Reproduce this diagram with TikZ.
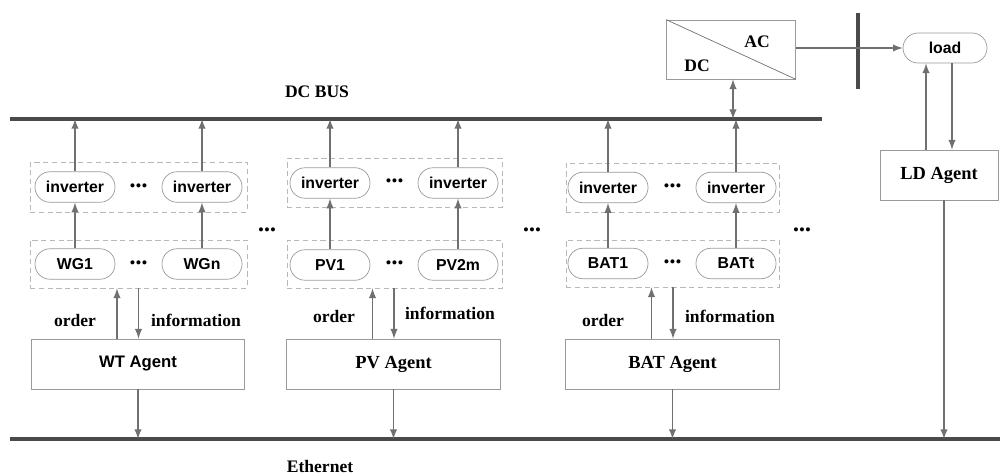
\documentclass[tikz,border=0pt]{standalone}
\usepackage{fontspec}
\setmainfont{Liberation Serif}
\setsansfont{Liberation Sans}
\usetikzlibrary{calc}

\definecolor{busgray}{HTML}{4A4A4A}
\definecolor{linegray}{HTML}{707070}
\definecolor{boxgray}{HTML}{9A9A9A}

\tikzset{
  pill/.style={draw=boxgray, rounded corners=3mm, minimum width=1.6cm, minimum height=0.61cm,
    inner sep=0pt, font=\sffamily\bfseries\fontsize{9}{10}\selectfont},
  grpbox/.style={draw=boxgray!70, densely dashed, line width=0.4pt, inner sep=0pt},
  agentbox/.style={draw=boxgray, minimum width=4.27cm, minimum height=1cm, inner sep=0pt,
    font=\bfseries\fontsize{10.5}{12}\selectfont},
  lbl/.style={font=\bfseries\fontsize{10}{12}\selectfont},
  dots/.style={font=\sffamily\bfseries\fontsize{8}{10}\selectfont, inner sep=0pt},
  bus/.style={busgray, line width=2.4pt}
}
\newcommand{\tridots}{•\kern0.6pt•\kern0.6pt•}

\begin{document}
\begin{tikzpicture}[x=0.02cm, y=-0.02cm, >=latex]
\useasboundingbox (0,0) rectangle (1000,476);

% buses
\draw [bus] (10,119) coordinate (dcw) -- (822,119) coordinate (dce);
\draw [bus] (10,439) coordinate (ethw) -- (1000,439) coordinate (ethe);
\node [lbl] (dcbuslbl) at (317,92) {DC BUS};
\node [lbl] (ethlbl) at (320,466) {Ethernet};

% dashed groups
\node [grpbox, minimum width=4.34cm, minimum height=1cm]  (wtinv) at (138.5,187) {};
\node [grpbox, minimum width=4.34cm, minimum height=0.96cm] (wtgen) at (138.5,264) {};
\node [grpbox, minimum width=4.3cm, minimum height=0.98cm] (pvinv) at (394.5,182.5) {};
\node [grpbox, minimum width=4.3cm, minimum height=0.96cm] (pvgen) at (394.5,264) {};
\node [grpbox, minimum width=4.26cm, minimum height=0.98cm] (batinv) at (672.5,187.5) {};
\node [grpbox, minimum width=4.26cm, minimum height=0.94cm] (batgen) at (672.5,263.5) {};

% inverters and sources
\node [pill] (wtinv1) at (75,187) {inverter};
\node [pill] (wtinv2) at (202,187) {inverter};
\node [pill] (wg1) at (75,264) {WG1};
\node [pill] (wgn) at (202,264) {WGn};

\node [pill] (pvinv1) at (330,183) {inverter};
\node [pill] (pvinv2) at (458,183) {inverter};
\node [pill] (pv1) at (330,265) {PV1};
\node [pill] (pv2m) at (458,265) {PV2m};

\node [pill] (batinv1) at (608,187.5) {inverter};
\node [pill] (batinv2) at (736,187.5) {inverter};
\node [pill] (bat1) at (608,263.5) {BAT1};
\node [pill] (batt) at (736,263.5) {BATt};

\foreach \g in {wtinv,wtgen,pvinv,pvgen,batinv,batgen}
  \node [dots] at (\g) {\tridots};
\node [dots] (dotsa) at (267,231) {\tridots};
\node [dots] (dotsb) at (532,231) {\tridots};
\node [dots] (dotsc) at (802,231) {\tridots};

% agents
\node [agentbox, font=\sffamily\bfseries\fontsize{9.5}{11}\selectfont] (wtag) at (138,364) {WT Agent};
\node [agentbox] (pvag) at (393.5,364) {PV Agent};
\node [agentbox] (batag) at (672.5,364) {BAT Agent};
\node [agentbox, minimum width=2.36cm] (ldag) at (939,175) {LD Agent};

% converter, AC side and load
\node [draw=boxgray, minimum width=2.58cm, minimum height=1.18cm, inner sep=0pt] (conv) at (731,49.5) {};
\draw [linegray] (conv.north west) -- (conv.south east);
\node [lbl] (aclbl) at (757,42) {AC};
\node [lbl] (dclbl) at (697,66) {DC};
\draw [bus, line width=2.6pt] (858,13) coordinate (acbar) -- (858,89);
\node [pill, minimum width=1.68cm, minimum height=0.6cm] (load) at (945,48) {load};

\begin{scope}[linegray, line width=0.9pt, ->]
\foreach \s/\t in {wg1/wtinv1, wgn/wtinv2, pv1/pvinv1, pv2m/pvinv2, bat1/batinv1, batt/batinv2}
  \draw (\s) -- (\t);
\foreach \t in {wtinv1, wtinv2, pvinv1, pvinv2, batinv1, batinv2}
  \draw (\t) -- (\t |- dcw);

\draw [<->] (conv.south -| 733,0) -- (733,0 |- dcw);
\draw [-] (conv.east |- load) -- (acbar |- load);
\draw (acbar |- load) -- (load);
\draw ([xshift=-0.26cm]ldag.north) -- ([xshift=-0.26cm]ldag.north |- load.south);
\draw ([xshift=0.26cm]ldag.north |- load.south) -- ([xshift=0.26cm]ldag.north);
\draw ([xshift=0.1cm]ldag.south) -- ([xshift=0.1cm]ldag.south |- ethw);

\foreach \a/\b in {wtag/wtgen, pvag/pvgen, batag/batgen} {
  \draw ([xshift=-0.42cm]\a.north) -- ([xshift=-0.42cm]\a.north |- \b.south);
  \draw ([xshift=0.01cm]\a.north |- \b.south) -- ([xshift=0.01cm]\a.north);
  \draw (\a) -- (\a |- ethw);
}
\end{scope}

\node [lbl] (wtord) at (75,320) {order};
\node [lbl] (wtinfo) at (196,320) {information};
\node [lbl] (pvord) at (334,316) {order};
\node [lbl] (pvinfo) at (450,313) {information};
\node [lbl] (batord) at (603,320) {order};
\node [lbl] (batinfo) at (730,316) {information};

\end{tikzpicture}
\end{document}
